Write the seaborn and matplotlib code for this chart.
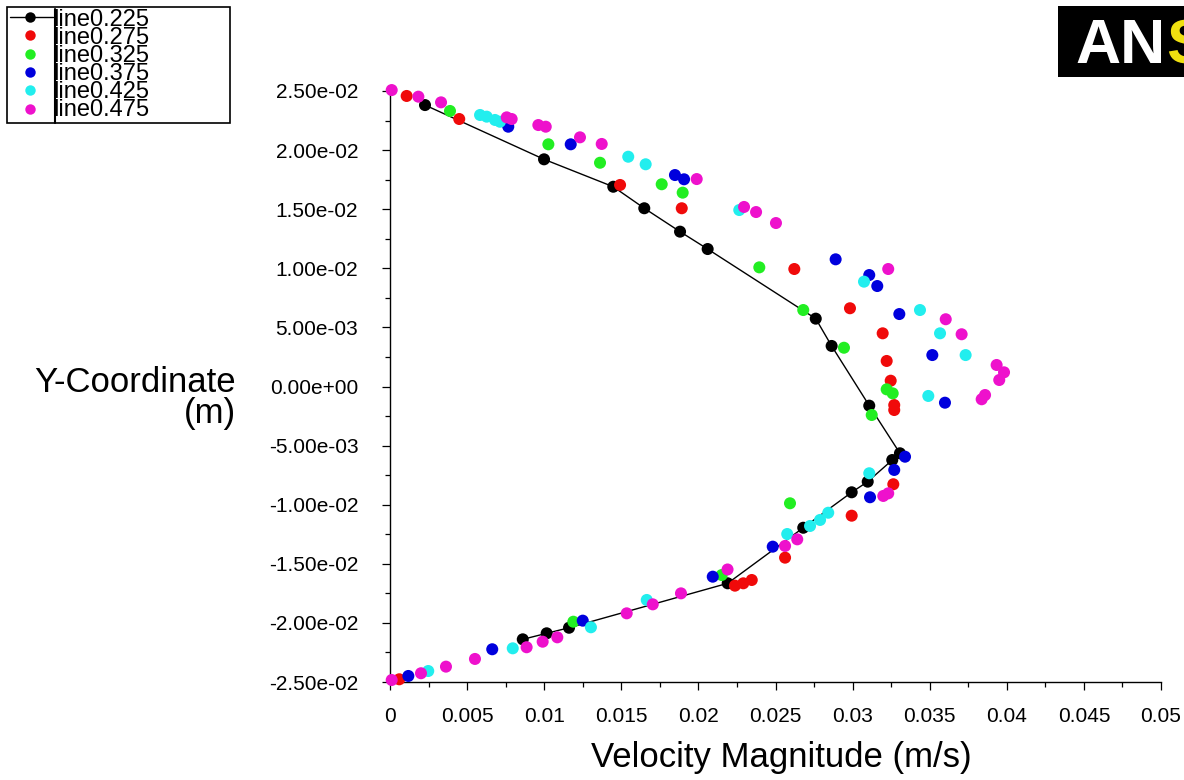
import numpy as np
import pandas as pd
import matplotlib
matplotlib.use("Agg")
import matplotlib.pyplot as plt
import seaborn as sns
from matplotlib.ticker import MultipleLocator, FuncFormatter
from matplotlib.lines import Line2D
from matplotlib.patches import Rectangle

# ---------------------------------------------------------------
# DATA  (velocity magnitude in m/s, y-coordinate in m)
# ---------------------------------------------------------------
series_names = ["line0.225", "line0.275", "line0.325", "line0.375", "line0.425", "line0.475"]
series_colors = ["#000000", "#f00a0a", "#22ee22", "#0000dd", "#22eeee", "#ee11cc"]

vel_225 = [0.00227, 0.00999, 0.01448, 0.01649, 0.01881, 0.02060, 0.02761, 0.02864, 0.03108,
           0.03307, 0.03257, 0.03098, 0.02994, 0.02680, 0.02190, 0.01161, 0.01016, 0.00861]
y_225 = [0.02381, 0.01922, 0.01690, 0.01508, 0.01310, 0.01163, 0.00574, 0.00343, -0.00162,
         -0.00565, -0.00622, -0.00805, -0.00895, -0.01195, -0.01665, -0.02041, -0.02088, -0.02139]

vel_275 = [0.00108, 0.00449, 0.01492, 0.01892, 0.02622, 0.02983, 0.03195, 0.03221, 0.03247,
           0.03270, 0.03270, 0.03264, 0.02994, 0.02562, 0.02346, 0.02291, 0.02237, 0.00060]
y_275 = [0.02458, 0.02263, 0.01705, 0.01508, 0.00994, 0.00662, 0.00450, 0.00216, 0.00049,
         -0.00157, -0.00199, -0.00827, -0.01093, -0.01448, -0.01637, -0.01665, -0.01685, -0.02477]

vel_325 = [0.00389, 0.01027, 0.01362, 0.01762, 0.01898, 0.02395, 0.02680, 0.02944, 0.03221,
           0.03260, 0.03124, 0.02594, 0.02151, 0.01189]
y_325 = [0.02331, 0.02049, 0.01893, 0.01711, 0.01640, 0.01008, 0.00647, 0.00328, -0.00024,
         -0.00058, -0.00241, -0.00988, -0.01595, -0.01990]

vel_375 = [0.00767, 0.01172, 0.01848, 0.01907, 0.02890, 0.03108, 0.03160, 0.03303, 0.03517,
           0.03599, 0.03340, 0.03270, 0.03113, 0.02482, 0.02093, 0.01250, 0.00663, 0.00119]
y_375 = [0.02198, 0.02049, 0.01789, 0.01753, 0.01076, 0.00943, 0.00850, 0.00613, 0.00266,
         -0.00137, -0.00594, -0.00706, -0.00937, -0.01355, -0.01609, -0.01981, -0.02223, -0.02449]

vel_425 = [0.00584, 0.00627, 0.00681, 0.00713, 0.01545, 0.01658, 0.02265, 0.03074, 0.03437,
           0.03567, 0.03733, 0.03491, 0.03108, 0.02842, 0.02789, 0.02724, 0.02576, 0.01665,
           0.01303, 0.00796, 0.00248]
y_425 = [0.02297, 0.02283, 0.02255, 0.02240, 0.01944, 0.01880, 0.01493, 0.00887, 0.00647,
         0.00450, 0.00266, -0.00080, -0.00734, -0.01068, -0.01129, -0.01180, -0.01248, -0.01806,
         -0.02037, -0.02215, -0.02407]

vel_475 = [0.00011, 0.00184, 0.00331, 0.00757, 0.00789, 0.00962, 0.01010, 0.01232, 0.01373,
           0.01989, 0.02296, 0.02374, 0.02503, 0.03231, 0.03604, 0.03707, 0.03934, 0.03982,
           0.03951, 0.03859, 0.03837, 0.03231, 0.03199, 0.02641, 0.02562, 0.02189, 0.01887,
           0.01704, 0.01535, 0.01085, 0.00990, 0.00886, 0.00551, 0.00363, 0.00201, 0.00011]
y_475 = [0.02508, 0.02452, 0.02404, 0.02277, 0.02263, 0.02212, 0.02198, 0.02108, 0.02052,
         0.01755, 0.01519, 0.01476, 0.01383, 0.00994, 0.00569, 0.00442, 0.00182, 0.00120,
         0.00055, -0.00072, -0.00108, -0.00904, -0.00926, -0.01293, -0.01349, -0.01548, -0.01750,
         -0.01843, -0.01919, -0.02122, -0.02159, -0.02206, -0.02305, -0.02370, -0.02426, -0.02483]

all_vel = [vel_225, vel_275, vel_325, vel_375, vel_425, vel_475]
all_y = [y_225, y_275, y_325, y_375, y_425, y_475]

df = pd.concat(
    [pd.DataFrame({"vel": v, "y": yy, "series": name})
     for v, yy, name in zip(all_vel, all_y, series_names)],
    ignore_index=True,
)
palette = dict(zip(series_names, series_colors))

# ---------------------------------------------------------------
# FIGURE
# ---------------------------------------------------------------
W, H = 1184, 780
sns.set_theme(style="ticks")
plt.rcParams["font.family"] = ["Liberation Sans", "DejaVu Sans"]


def fx(p):
    return p / W


def fy(p):
    return 1 - p / H


fig = plt.figure(figsize=(W / 100, H / 100), dpi=100)
ax = fig.add_axes([fx(390), fy(682), (1161 - 390) / W, (682 - 91) / H])

# black line for the first series, then all the markers on top
sns.lineplot(x=vel_225, y=y_225, sort=False, estimator=None, color="black",
             linewidth=1.0, ax=ax, zorder=2)
sns.scatterplot(data=df, x="vel", y="y", hue="series", palette=palette,
                s=75, linewidth=0, legend=False, ax=ax, zorder=3, clip_on=False)

ax.set_xlim(0, 0.05)
ax.set_ylim(-0.025, 0.025)
ax.xaxis.set_major_locator(MultipleLocator(0.005))
ax.xaxis.set_minor_locator(MultipleLocator(0.0025))
ax.yaxis.set_major_locator(MultipleLocator(0.005))
ax.yaxis.set_minor_locator(MultipleLocator(0.0025))
ax.xaxis.set_major_formatter(FuncFormatter(lambda v, p: "%g" % round(v, 4)))
ax.yaxis.set_major_formatter(FuncFormatter(lambda v, p: "%.2e" % (round(v, 4) + 0.0)))

sns.despine(ax=ax)
for s in ["left", "bottom"]:
    ax.spines[s].set_linewidth(1.0)
    ax.spines[s].set_color("black")

ax.tick_params(axis="both", which="major", length=5.8, width=0.9, color="black",
               labelsize=15, labelcolor="black")
ax.tick_params(axis="both", which="minor", length=3.6, width=0.9, color="black")
ax.tick_params(axis="y", which="major", pad=17)
ax.tick_params(axis="x", which="major", pad=12)

ax.set_xlabel("Velocity Magnitude (m/s)", fontsize=25, color="black", va="center")
ax.xaxis.set_label_coords((781 - 390) / 771, (682 - 757) / 591)
ax.set_ylabel("Y-Coordinate\n(m)", fontsize=25, color="black", rotation=0,
              ha="right", va="center", multialignment="right", linespacing=0.95)
ax.yaxis.set_label_coords((236 - 390) / 771, (682 - 398) / 591)

# ---------------------------------------------------------------
# LEGEND BOX (top left)
# ---------------------------------------------------------------
fig.add_artist(Rectangle((fx(7), fy(123)), (230 - 7) / W, (123 - 7) / H,
                         transform=fig.transFigure, fill=False, edgecolor="black", lw=1.2))
fig.add_artist(Line2D([fx(55), fx(55)], [fy(9), fy(123)], transform=fig.transFigure,
                      color="black", lw=1.5))
row_y = [17, 35.3, 53.6, 71.9, 90.2, 108.5]
fig.add_artist(Line2D([fx(10), fx(53)], [fy(row_y[0]), fy(row_y[0])],
                      transform=fig.transFigure, color="black", lw=1.0))
for ry, col in zip(row_y, series_colors):
    fig.add_artist(Line2D([fx(30)], [fy(ry)], transform=fig.transFigure, marker="o",
                          markersize=7.5, markerfacecolor=col, markeredgewidth=0,
                          linestyle="none"))
# one multi-line text so the tightly packed rows stay a single block
fig.text(fx(53), fy(65), "\n".join(series_names), fontsize=17, ha="left",
         va="center", color="black", linespacing=0.765)

# ---------------------------------------------------------------
# LOGO (top right, cut by the figure edge)
# ---------------------------------------------------------------
fig.add_artist(Rectangle((fx(1058), fy(77)), (W - 1058) / W, (77 - 6) / H,
                         transform=fig.transFigure, facecolor="black", edgecolor="none"))
fig.text(fx(1075), fy(63), "AN", fontsize=45, fontweight="bold", color="white",
         ha="left", va="baseline")
fig.text(fx(1166), fy(63), "S", fontsize=45, fontweight="bold", color="#f0e010",
         ha="left", va="baseline")

fig.savefig("out.png", dpi=100)
